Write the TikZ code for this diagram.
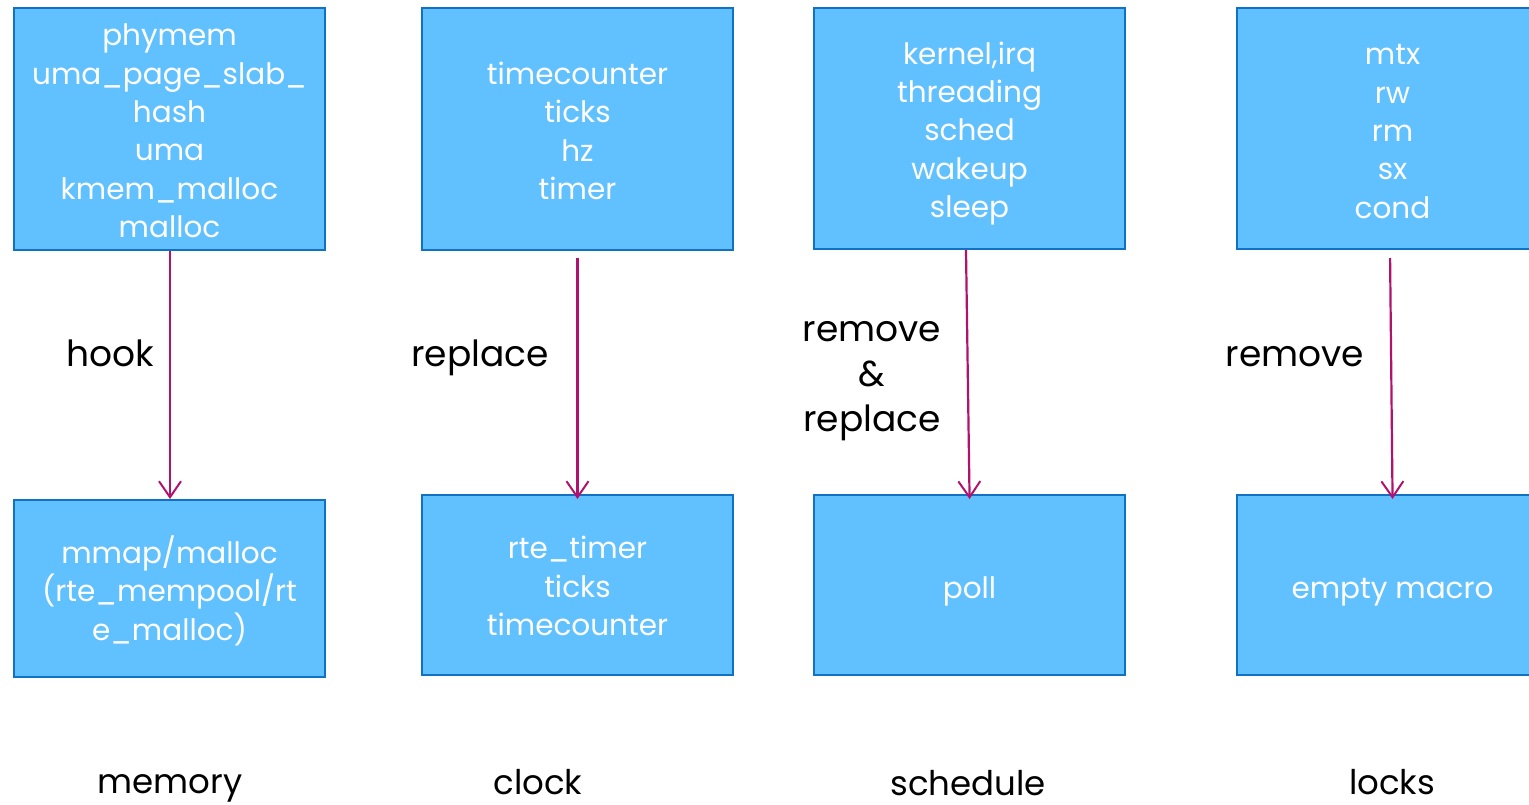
\documentclass[tikz,border=0pt]{standalone}
\usepackage{fontspec}
\setmainfont{Poppins}
\usetikzlibrary{arrows.meta}
\definecolor{boxfill}{HTML}{61C1FE}
\definecolor{boxline}{HTML}{1172C4}
\definecolor{arrowc}{HTML}{B0126E}
\tikzset{
  box/.style={draw=boxline, fill=boxfill, line width=2pt, minimum width=311pt, inner sep=0pt},
  boxtxt/.style={text=white, align=center, inner sep=0pt, font=\fontsize{29.5}{38.4}\selectfont},
  conn/.style={draw=arrowc, line width=2.2pt, -{Straight Barb[length=16pt,width=22pt,line width=2pt]}},
  lbl/.style={align=center, font=\fontsize{36}{45}\selectfont, text=black, inner sep=0pt},
  lblbase/.style={lbl, anchor=base},
  collbl/.style={font=\fontsize{34}{40}\selectfont, text=black, inner sep=0pt, anchor=base, text depth=0pt},
}
\begin{document}
\begin{tikzpicture}[x=1pt,y=-1pt]
\useasboundingbox (0,0) rectangle (1529,805);
\clip (0,0) rectangle (1529,805);
\fill[white] (0,0) rectangle (1529,805);
% top row boxes
\node[box, minimum height=242pt] (t1) at (169.5,129) {};
\node[box, minimum height=242pt] (t2) at (577.5,129) {};
\node[box, minimum height=241pt] (t3) at (969.5,128.5) {};
\node[box, minimum height=241pt] (t4) at (1392.5,128.5) {};
% bottom row boxes
\node[box, minimum height=177pt] (b1) at (169.5,588.5) {};
\node[box, minimum height=180pt] (b2) at (577.5,585) {};
\node[box, minimum height=180pt] (b3) at (969.5,585) {};
\node[box, minimum height=180pt] (b4) at (1392.5,585) {};
% box texts
\node[boxtxt] (t1x) at ([yshift=-2pt]t1.center) {phymem\\uma\_page\_slab\_\\hash\\uma\\kmem\_malloc\\malloc};
\node[boxtxt] (t2x) at ([yshift=-2pt]t2.center) {timecounter\\ticks\\hz\\timer};
\node[boxtxt] (t3x) at ([yshift=-5pt]t3.center) {kernel,irq\\threading\\sched\\wakeup\\sleep};
\node[boxtxt] (t4x) at ([yshift=-3pt]t4.center) {mtx\\rw\\rm\\sx\\cond};
\node[boxtxt] (b1x) at ([yshift=-2pt]b1.center) {mmap/malloc\\(rte\_mempool/rt\\e\_malloc)};
\node[boxtxt] (b2x) at ([yshift=-1pt]b2.center) {rte\_timer\\ticks\\timecounter};
\node[boxtxt] (b3x) at ([yshift=-6pt]b3.center) {poll};
\node[boxtxt] (b4x) at ([yshift=-7pt]b4.center) {empty macro};
% connectors
\draw[conn] ([xshift=0.5pt]t1.south) -- ([xshift=0.5pt]b1.north);
\draw[conn, shorten <=7pt, shorten >=-5pt] (t2.south) -- (b2.north);
\draw[conn, shorten >=-5pt] ([xshift=-3.5pt]t3.south) -- (b3.north);
\draw[conn, shorten <=8pt, shorten >=-5pt] ([xshift=-2.5pt]t4.south) -- (b4.north);
% connector labels
\node[lblbase] (l1) at (110,366) {hook};
\node[lblbase] (l2) at (480,366) {replace};
\node[lbl] (l3) at (872,381) {remove\\\&\\replace};
\node[lblbase] (l4) at (1295,366) {remove};
% column labels
\node[collbl] (c1) at (170,793) {memory};
\node[collbl] (c2) at (538,794) {clock};
\node[collbl] (c3) at (968,795) {schedule};
\node[collbl] (c4) at (1392,794) {locks};
\end{tikzpicture}
\end{document}
